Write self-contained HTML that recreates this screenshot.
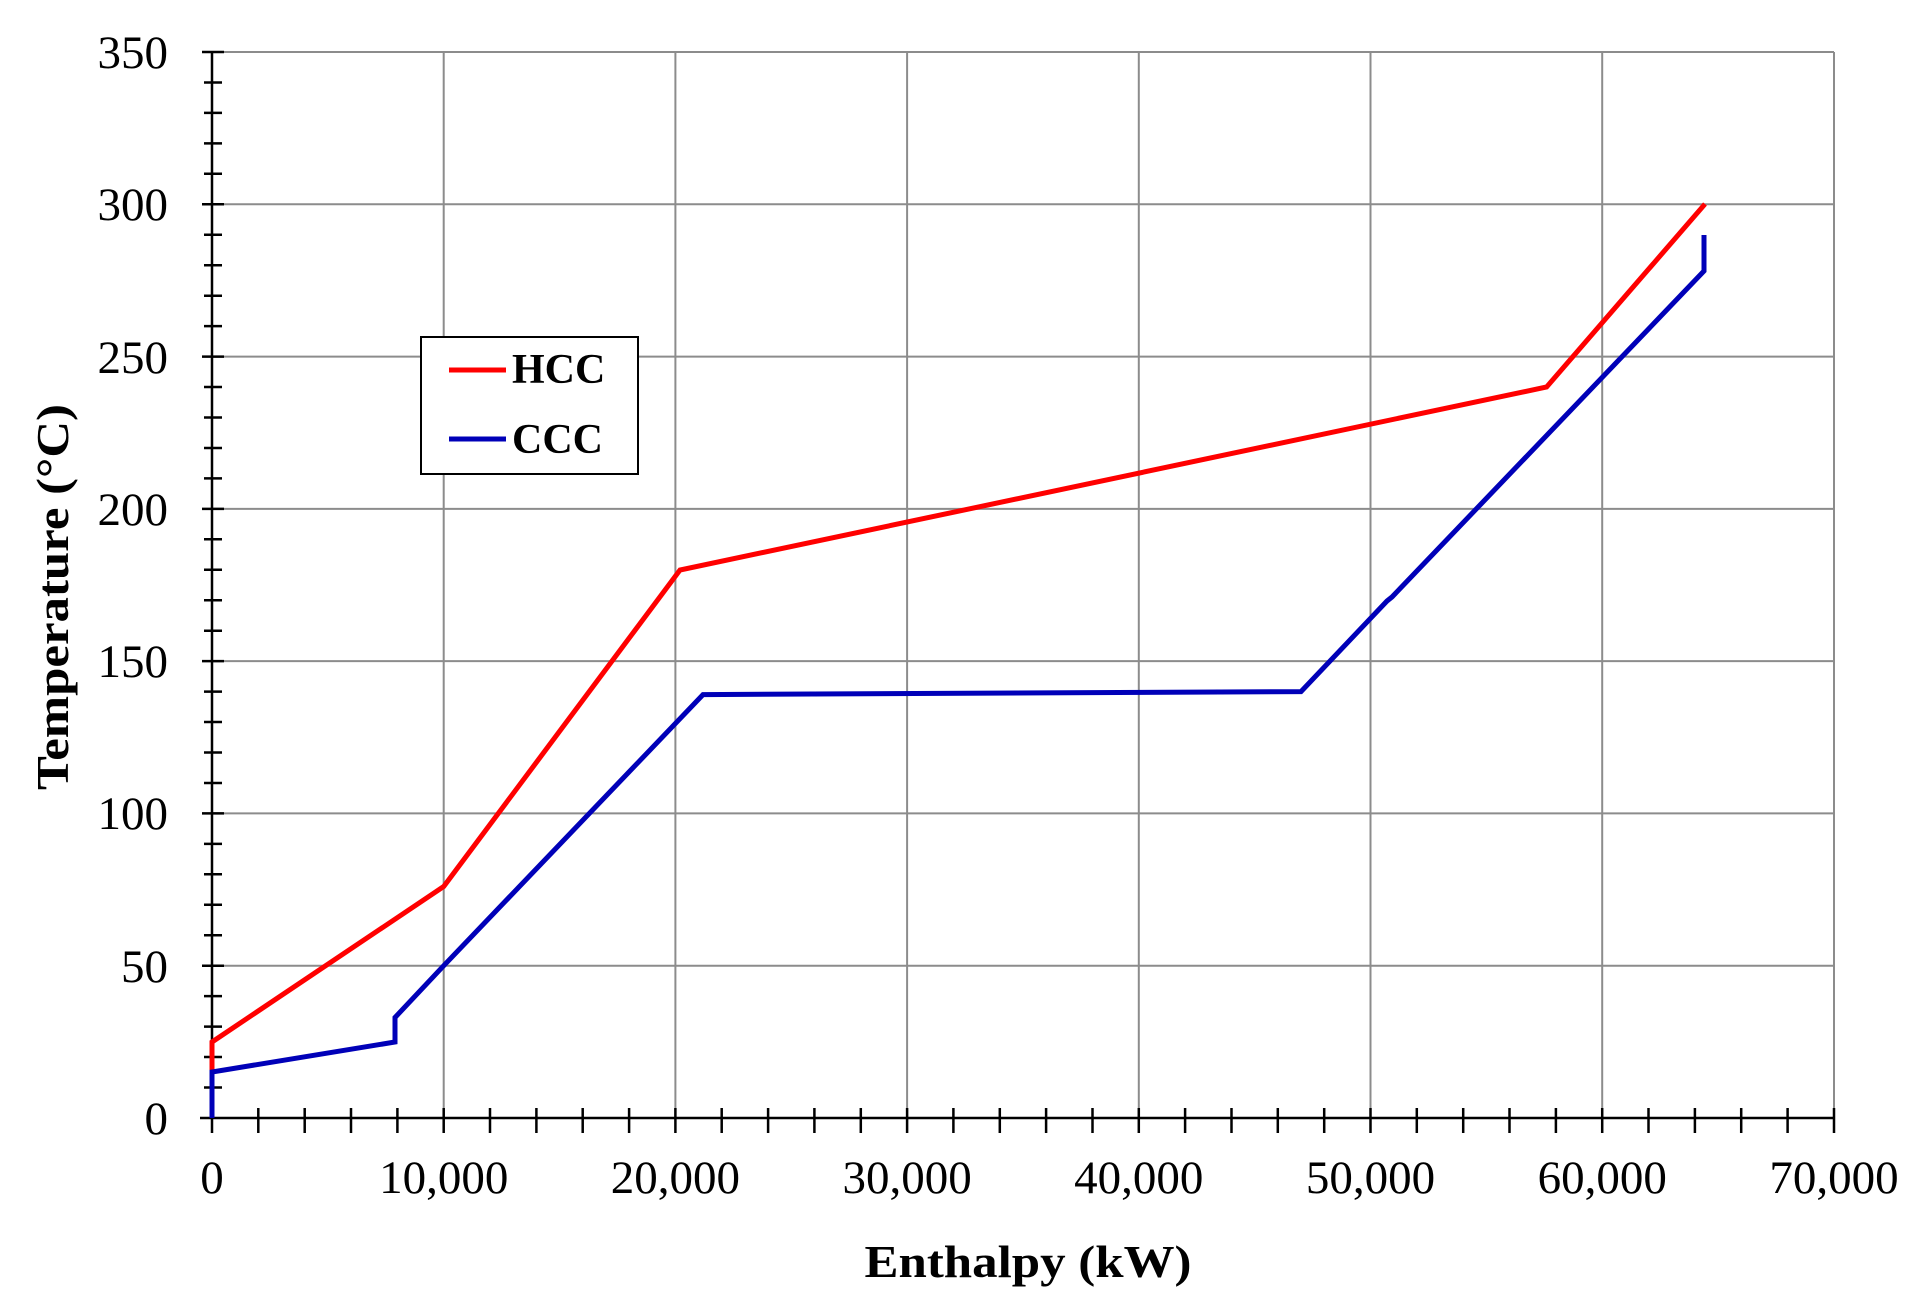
<!DOCTYPE html>
<html><head><meta charset="utf-8"><style>html,body{margin:0;padding:0;background:#fff;}svg{display:block;}</style></head>
<body>
<svg width="1922" height="1307" viewBox="0 0 1922 1307" xmlns="http://www.w3.org/2000/svg" font-family="'Liberation Serif', serif">
<rect width="1922" height="1307" fill="#fff"/>
<g stroke="#8c8c8c" stroke-width="2" fill="none">
<line x1="212" y1="52" x2="1834" y2="52"/>
<line x1="212" y1="204.3" x2="1834" y2="204.3"/>
<line x1="212" y1="356.6" x2="1834" y2="356.6"/>
<line x1="212" y1="508.9" x2="1834" y2="508.9"/>
<line x1="212" y1="661.1" x2="1834" y2="661.1"/>
<line x1="212" y1="813.4" x2="1834" y2="813.4"/>
<line x1="212" y1="965.7" x2="1834" y2="965.7"/>
<line x1="443.7" y1="52" x2="443.7" y2="1118"/>
<line x1="675.4" y1="52" x2="675.4" y2="1118"/>
<line x1="907.1" y1="52" x2="907.1" y2="1118"/>
<line x1="1138.8" y1="52" x2="1138.8" y2="1118"/>
<line x1="1370.5" y1="52" x2="1370.5" y2="1118"/>
<line x1="1602.2" y1="52" x2="1602.2" y2="1118"/>
<line x1="1834" y1="52" x2="1834" y2="1118"/>
</g>
<g stroke="#000" stroke-width="2.5">
<line x1="212" y1="52" x2="212" y2="1118"/>
<line x1="200" y1="1118" x2="1834" y2="1118"/>
<path d="M202 52h22M204 82.5h18M204 112.9h18M204 143.4h18M204 173.8h18M202 204.3h22M204 234.8h18M204 265.2h18M204 295.7h18M204 326.1h18M202 356.6h22M204 387h18M204 417.5h18M204 448h18M204 478.4h18M202 508.9h22M204 539.3h18M204 569.8h18M204 600.2h18M204 630.7h18M202 661.1h22M204 691.6h18M204 722h18M204 752.5h18M204 783h18M202 813.4h22M204 843.9h18M204 874.3h18M204 904.8h18M204 935.2h18M202 965.7h22M204 996.1h18M204 1026.6h18M204 1057h18M204 1087.5h18"/>
<path d="M212 1108v25M258.3 1108v25M304.7 1108v25M351 1108v25M397.4 1108v25M443.7 1108v25M490 1108v25M536.4 1108v25M582.7 1108v25M629.1 1108v25M675.4 1108v25M721.7 1108v25M768.1 1108v25M814.4 1108v25M860.8 1108v25M907.1 1108v25M953.4 1108v25M999.8 1108v25M1046.1 1108v25M1092.5 1108v25M1138.8 1108v25M1185.1 1108v25M1231.5 1108v25M1277.8 1108v25M1324.2 1108v25M1370.5 1108v25M1416.8 1108v25M1463.2 1108v25M1509.5 1108v25M1555.9 1108v25M1602.2 1108v25M1648.5 1108v25M1694.9 1108v25M1741.2 1108v25M1787.6 1108v25M1834 1108v25"/>
</g>
<polyline fill="none" stroke="#ff0000" stroke-width="5" points="212,1072 212,1042 443.7,886.5 680,570 1546.6,387 1705,204"/>
<polyline fill="none" stroke="#0000b8" stroke-width="5" points="212,1118 212,1072 395,1042 395,1017.5 443.7,965.7 703,694.6 1301,691.6 1387,601 1392,597 1704,271 1704,235"/>
<g font-size="47" fill="#000" text-anchor="end">
<text x="168" y="68">350</text><text x="168" y="220">300</text><text x="168" y="373">250</text><text x="168" y="525">200</text><text x="168" y="677">150</text><text x="168" y="829">100</text><text x="168" y="982">50</text><text x="168" y="1134">0</text>
</g>
<g font-size="47" fill="#000" text-anchor="middle">
<text x="212" y="1193">0</text><text x="443.7" y="1193">10,000</text><text x="675.4" y="1193">20,000</text><text x="907.1" y="1193">30,000</text><text x="1138.8" y="1193">40,000</text><text x="1370.5" y="1193">50,000</text><text x="1602.2" y="1193">60,000</text><text x="1834" y="1193">70,000</text>
</g>
<text x="1028" y="1277" font-size="46" font-weight="bold" text-anchor="middle" textLength="327" lengthAdjust="spacingAndGlyphs">Enthalpy (kW)</text>
<text transform="translate(68,597) rotate(-90)" font-size="46" font-weight="bold" text-anchor="middle" textLength="386" lengthAdjust="spacingAndGlyphs">Temperature (°C)</text>
<rect x="421" y="337" width="217" height="137" fill="#fff" stroke="#000" stroke-width="2"/>
<line x1="449" y1="370" x2="506" y2="370" stroke="#ff0000" stroke-width="5"/>
<line x1="449" y1="439" x2="506" y2="439" stroke="#0000b8" stroke-width="5"/>
<g font-size="42" font-weight="bold"><text x="512" y="383">HCC</text><text x="512" y="453">CCC</text></g>
</svg>
</body></html>
